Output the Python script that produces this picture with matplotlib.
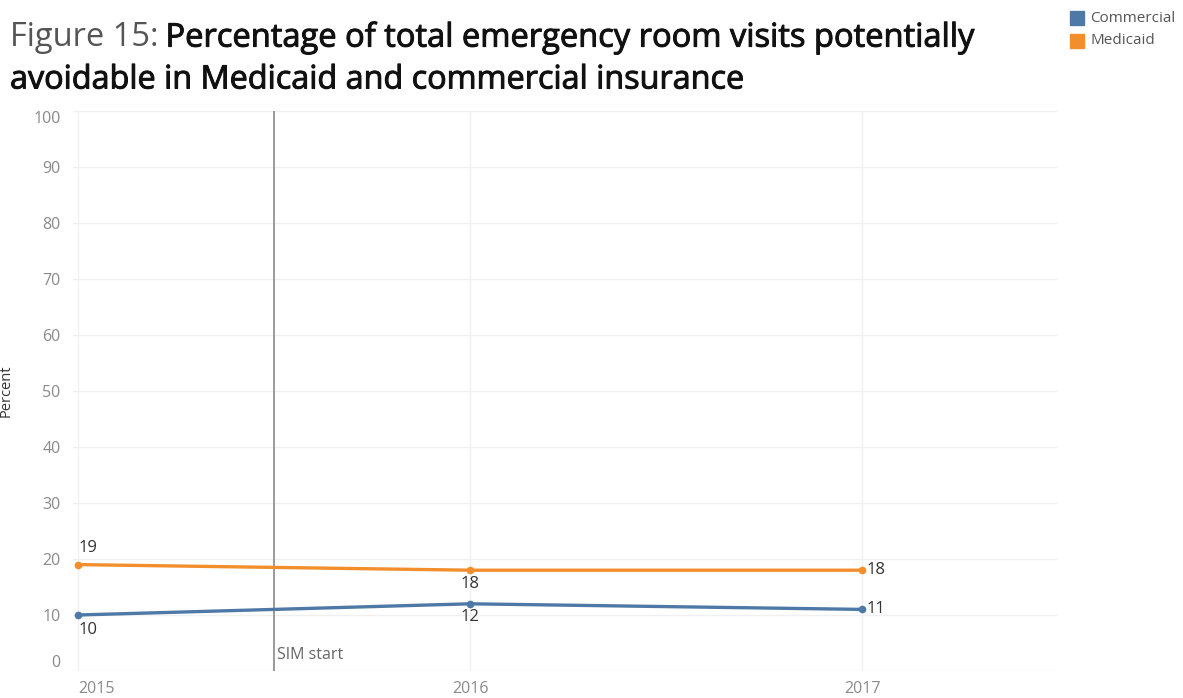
import matplotlib.pyplot as plt
import matplotlib.patheffects as pe
from matplotlib.patches import Rectangle

# data
years = [2015, 2016, 2017]
commercial = [10, 12, 11]
medicaid = [19, 18, 18]
sim_start = 2015.5
yticks = [0, 10, 20, 30, 40, 50, 60, 70, 80, 90, 100]

blue = '#4e79a7'
orange = '#f28e2b'
plt.rcParams['font.family'] = ['Open Sans', 'DejaVu Sans']

fig = plt.figure(figsize=(11.83, 6.98), dpi=100)
ax = fig.add_axes([73 / 1183, 27 / 698, (1057 - 73) / 1183, (671 - 111) / 698])

ax.plot(years, medicaid, color=orange, lw=2.4, marker='o', ms=4.5, zorder=3)
ax.plot(years, commercial, color=blue, lw=2.4, marker='o', ms=4.5, zorder=3)

# value labels
lbl = dict(fontsize=12, color='#333333')
ax.annotate(str(medicaid[0]), (years[0], medicaid[0]), xytext=(0, 6), textcoords='offset points', ha='left', va='bottom', **lbl)
ax.annotate(str(commercial[0]), (years[0], commercial[0]), xytext=(0, -5), textcoords='offset points', ha='left', va='top', **lbl)
ax.annotate(str(medicaid[1]), (years[1], medicaid[1]), xytext=(0, -4), textcoords='offset points', ha='center', va='top', **lbl)
ax.annotate(str(commercial[1]), (years[1], commercial[1]), xytext=(0, -4), textcoords='offset points', ha='center', va='top', **lbl)
ax.annotate(str(medicaid[2]), (years[2], medicaid[2]), xytext=(3, 0), textcoords='offset points', ha='left', va='center', **lbl)
ax.annotate(str(commercial[2]), (years[2], commercial[2]), xytext=(3, 0), textcoords='offset points', ha='left', va='center', **lbl)

# SIM start reference line
ax.axvline(sim_start, color='#9a9a9a', lw=1.4, zorder=2)
ax.text(sim_start + 0.008, 1.5, 'SIM start', fontsize=11.5, color='#666666', ha='left', va='bottom')

ax.set_xlim(2014.987, 2017.497)
ax.set_ylim(0, 100)
ax.set_yticks(yticks)
ax.set_xticks(years)
ax.set_xticklabels([str(y) for y in years])
ax.tick_params(axis='both', length=0, labelsize=11.5, labelcolor='#8a8a8a')
ax.tick_params(axis='y', pad=9)
ax.tick_params(axis='x', pad=7)
ax.get_xticklabels()[0].set_ha('left')
for t in ax.get_yticklabels():
    if t.get_text() == '0':
        t.set_va('bottom')
    elif t.get_text() == '100':
        t.set_va('top')
ax.grid(True, color='#f0f0f0', lw=1)
ax.set_axisbelow(True)
for s in ax.spines.values():
    s.set_visible(False)
ax.set_ylabel('Percent', fontsize=10.5, color='#333333', labelpad=14)

# title
bold = [pe.withStroke(linewidth=0.7, foreground='#111111')]
t1 = fig.text(10 / 1183, 1 - 38 / 698, 'Figure 15:', fontsize=23.5, color='#555555', va='center', ha='left')
fig.canvas.draw()
bb = t1.get_window_extent()
fig.text((bb.x1 + 7) / 1183, 1 - 38 / 698, 'Percentage of total emergency room visits potentially',
         fontsize=23.5, color='#111111', va='center', ha='left', path_effects=bold)
fig.text(10 / 1183, 1 - 80 / 698, 'avoidable in Medicaid and commercial insurance',
         fontsize=23.3, color='#111111', va='center', ha='left', path_effects=bold)

# legend
for i, (name, c) in enumerate([('Commercial', blue), ('Medicaid', orange)]):
    y = 1 - (18 + 23 * i) / 698
    fig.patches.append(Rectangle((1070 / 1183, y - 7 / 698), 14 / 1183, 14 / 698,
                                 transform=fig.transFigure, color=c))
    fig.text(1090 / 1183, y, name, fontsize=11, color='#555555', va='center', ha='left')

fig.savefig('out.png', dpi=100)
